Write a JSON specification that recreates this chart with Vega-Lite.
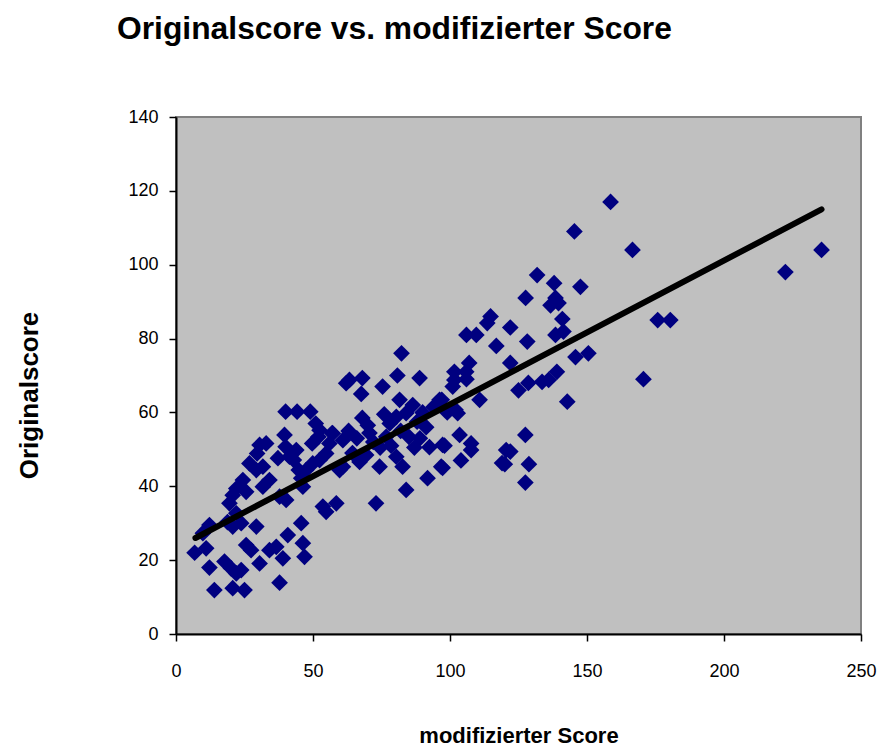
{
  "$schema": "https://vega.github.io/schema/vega-lite/v6.json",
  "width": 685,
  "height": 517,
  "autosize": {"type": "none"},
  "padding": {"left": 176, "top": 117, "right": 22, "bottom": 117},
  "background": "white",
  "config": {
    "view": {"fill": "#C0C0C0", "stroke": "#808080", "strokeWidth": 2},
    "font": "Liberation Sans"
  },
  "title": {
    "text": "Originalscore vs. modifizierter Score",
    "anchor": "start",
    "frame": "group",
    "dx": -59,
    "offset": 62,
    "fontSize": 31.8,
    "fontWeight": "bold",
    "font": "Liberation Sans",
    "color": "black"
  },
  "layer": [
    {
      "data": {
        "values": [
          {"mod": 6.8, "orig": 22}, {"mod": 11, "orig": 23.2}, {"mod": 9.8, "orig": 27.3}, {"mod": 12.2, "orig": 29.5},
          {"mod": 12.2, "orig": 18}, {"mod": 14, "orig": 11.9}, {"mod": 17.7, "orig": 19.6}, {"mod": 20.1, "orig": 17.8},
          {"mod": 22, "orig": 16.4}, {"mod": 23.8, "orig": 17.3}, {"mod": 20.7, "orig": 12.4}, {"mod": 25, "orig": 11.9},
          {"mod": 25.6, "orig": 24.1}, {"mod": 27.4, "orig": 22.7}, {"mod": 30.5, "orig": 19.1}, {"mod": 34.1, "orig": 22.7},
          {"mod": 36.6, "orig": 23.6}, {"mod": 39, "orig": 20.5}, {"mod": 37.8, "orig": 13.9}, {"mod": 40.8, "orig": 26.8},
          {"mod": 45.7, "orig": 30}, {"mod": 46.3, "orig": 24.6}, {"mod": 46.9, "orig": 20.9}, {"mod": 29.3, "orig": 29.1},
          {"mod": 23.8, "orig": 30}, {"mod": 20.7, "orig": 29.1}, {"mod": 22, "orig": 32.7}, {"mod": 20.7, "orig": 37.6},
          {"mod": 19.5, "orig": 35.4}, {"mod": 25.6, "orig": 38.5}, {"mod": 22, "orig": 39.4}, {"mod": 24.4, "orig": 41.7},
          {"mod": 31.7, "orig": 39.9}, {"mod": 34.1, "orig": 41.7}, {"mod": 29.3, "orig": 44.4}, {"mod": 31.7, "orig": 45.3},
          {"mod": 26.8, "orig": 46.2}, {"mod": 37.2, "orig": 47.6}, {"mod": 30.5, "orig": 51.2}, {"mod": 32.9, "orig": 51.6},
          {"mod": 29.6, "orig": 48.9}, {"mod": 39.6, "orig": 53.9}, {"mod": 40, "orig": 60.2}, {"mod": 44.2, "orig": 60.2},
          {"mod": 49, "orig": 60.2}, {"mod": 51, "orig": 57}, {"mod": 52.4, "orig": 55.2}, {"mod": 57.2, "orig": 54.3},
          {"mod": 60.9, "orig": 52.5}, {"mod": 62.1, "orig": 67.9}, {"mod": 41.4, "orig": 48}, {"mod": 43.9, "orig": 49.8},
          {"mod": 45.7, "orig": 42.2}, {"mod": 47.5, "orig": 44.4}, {"mod": 49.9, "orig": 46.2}, {"mod": 37.8, "orig": 37.2},
          {"mod": 40.2, "orig": 36.3}, {"mod": 46.3, "orig": 39.9}, {"mod": 53.6, "orig": 34.5}, {"mod": 58.5, "orig": 35.4},
          {"mod": 54.8, "orig": 33.1}, {"mod": 60.9, "orig": 45.3}, {"mod": 59.7, "orig": 44.4}, {"mod": 52.4, "orig": 47.1},
          {"mod": 54.8, "orig": 48.9}, {"mod": 56, "orig": 51.6}, {"mod": 40, "orig": 50.7}, {"mod": 43, "orig": 47.1},
          {"mod": 49.7, "orig": 51.6}, {"mod": 52, "orig": 53.4}, {"mod": 44.8, "orig": 44.4}, {"mod": 18.8, "orig": 30.3},
          {"mod": 63.3, "orig": 68.8}, {"mod": 68, "orig": 69.3}, {"mod": 67.6, "orig": 65}, {"mod": 75.4, "orig": 67},
          {"mod": 80.8, "orig": 70}, {"mod": 82.3, "orig": 76}, {"mod": 88.9, "orig": 69.3}, {"mod": 101.6, "orig": 71},
          {"mod": 107, "orig": 73.4}, {"mod": 116.9, "orig": 78}, {"mod": 106, "orig": 81}, {"mod": 109.6, "orig": 81},
          {"mod": 101, "orig": 67}, {"mod": 110.8, "orig": 63.4}, {"mod": 81.6, "orig": 63.4}, {"mod": 86.4, "orig": 62},
          {"mod": 96.2, "orig": 63.4}, {"mod": 102, "orig": 60.7}, {"mod": 80.4, "orig": 58.8}, {"mod": 84, "orig": 59.8},
          {"mod": 78, "orig": 57}, {"mod": 68, "orig": 58.5}, {"mod": 70.6, "orig": 54.4}, {"mod": 63, "orig": 55},
          {"mod": 57, "orig": 54.4}, {"mod": 76.7, "orig": 53.4}, {"mod": 85, "orig": 53.4}, {"mod": 91.3, "orig": 56},
          {"mod": 92.5, "orig": 50.6}, {"mod": 97.3, "orig": 51.2}, {"mod": 103.5, "orig": 53.9}, {"mod": 107.7, "orig": 51.6},
          {"mod": 107.7, "orig": 49.8}, {"mod": 104, "orig": 47}, {"mod": 96.8, "orig": 45.3}, {"mod": 91.8, "orig": 42.2},
          {"mod": 84, "orig": 39}, {"mod": 82.7, "orig": 45.3}, {"mod": 80.4, "orig": 48}, {"mod": 74.3, "orig": 45.3},
          {"mod": 73, "orig": 35.4}, {"mod": 67, "orig": 46.6}, {"mod": 64.4, "orig": 49}, {"mod": 69.4, "orig": 48.5},
          {"mod": 119, "orig": 46.3}, {"mod": 120.5, "orig": 49.8}, {"mod": 72, "orig": 52}, {"mod": 74.5, "orig": 50.5},
          {"mod": 78.5, "orig": 51}, {"mod": 82, "orig": 55}, {"mod": 88, "orig": 57.5}, {"mod": 90, "orig": 60},
          {"mod": 94, "orig": 61.5}, {"mod": 87, "orig": 50.5}, {"mod": 89, "orig": 53}, {"mod": 66, "orig": 53},
          {"mod": 70, "orig": 56.5}, {"mod": 76, "orig": 59.5}, {"mod": 99, "orig": 60}, {"mod": 97, "orig": 63.4},
          {"mod": 102.8, "orig": 59.8}, {"mod": 98, "orig": 51}, {"mod": 97.3, "orig": 45}, {"mod": 106, "orig": 69},
          {"mod": 105.9, "orig": 71}, {"mod": 101.6, "orig": 68.8},
          {"mod": 131.8, "orig": 97.2}, {"mod": 138, "orig": 95}, {"mod": 147.6, "orig": 94}, {"mod": 127.6, "orig": 91},
          {"mod": 138.5, "orig": 91}, {"mod": 139.6, "orig": 89.6}, {"mod": 136.7, "orig": 89}, {"mod": 114.8, "orig": 86},
          {"mod": 113.6, "orig": 84.2}, {"mod": 122, "orig": 83}, {"mod": 141, "orig": 85.3}, {"mod": 138.5, "orig": 81},
          {"mod": 141.4, "orig": 81.9}, {"mod": 128.2, "orig": 79.2}, {"mod": 122, "orig": 73.4}, {"mod": 145.8, "orig": 75},
          {"mod": 150.5, "orig": 76}, {"mod": 139, "orig": 71}, {"mod": 136, "orig": 68.8}, {"mod": 133.6, "orig": 68.3},
          {"mod": 128.6, "orig": 68}, {"mod": 125, "orig": 66}, {"mod": 142.8, "orig": 62.9}, {"mod": 127.5, "orig": 53.9},
          {"mod": 122, "orig": 49.4}, {"mod": 120, "orig": 46}, {"mod": 128.8, "orig": 46}, {"mod": 127.5, "orig": 41},
          {"mod": 158.6, "orig": 117}, {"mod": 145.4, "orig": 109}, {"mod": 166.6, "orig": 104}, {"mod": 235.6, "orig": 104},
          {"mod": 222.4, "orig": 98}, {"mod": 175.8, "orig": 85}, {"mod": 180.4, "orig": 85}, {"mod": 170.6, "orig": 69}
        ]
      },
      "mark": {"type": "point", "shape": "diamond", "filled": true, "color": "#000080", "size": 280, "opacity": 1},
      "encoding": {
        "x": {
          "field": "mod", "type": "quantitative",
          "scale": {"domain": [0, 250], "nice": false},
          "axis": {
            "title": "modifizierter Score", "values": [0, 50, 100, 150, 200, 250], "grid": false,
            "domainColor": "black", "domainWidth": 2, "tickColor": "black", "tickSize": 7, "tickWidth": 1.5,
            "labelFontSize": 18, "labelPadding": 21, "labelColor": "black", "labelFont": "Liberation Sans", "labelFlush": false,
            "titleFontSize": 22, "titleFontWeight": "bold", "titleColor": "black", "titleFont": "Liberation Sans",
            "titleY": 101, "titleBaseline": "middle"
          }
        },
        "y": {
          "field": "orig", "type": "quantitative",
          "scale": {"domain": [0, 140], "nice": false},
          "axis": {
            "title": "Originalscore", "values": [0, 20, 40, 60, 80, 100, 120, 140], "grid": false,
            "domainColor": "black", "domainWidth": 2, "tickColor": "black", "tickSize": 7, "tickWidth": 1.5,
            "labelFontSize": 18, "labelPadding": 11, "labelColor": "black", "labelFont": "Liberation Sans", "labelFlush": false,
            "titleFontSize": 26, "titleFontWeight": "bold", "titleColor": "black", "titleFont": "Liberation Sans",
            "titleX": -147, "titleY": 278, "titleAngle": -90, "titleBaseline": "middle", "titleAlign": "center"
          }
        }
      }
    },
    {
      "data": {"values": [{"mod": 7.1, "orig": 26}, {"mod": 235.6, "orig": 115}]},
      "mark": {"type": "line", "color": "black", "strokeWidth": 6, "strokeCap": "round"},
      "encoding": {
        "x": {"field": "mod", "type": "quantitative"},
        "y": {"field": "orig", "type": "quantitative"}
      }
    }
  ]
}
